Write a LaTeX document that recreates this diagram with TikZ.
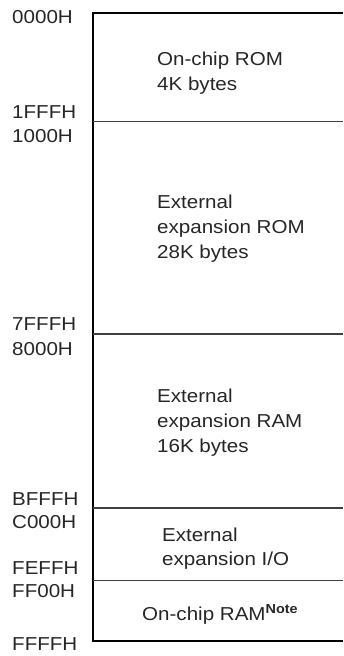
\documentclass[tikz,border=0pt]{standalone}
\usepackage{fontspec}
\setmainfont{Liberation Sans}[FakeStretch=1.1]
\begin{document}
\begin{tikzpicture}[
  x=1pt, y=-1pt,
  font=\fontsize{18.7}{25}\selectfont,
  addr/.style={anchor=base west, inner sep=0pt, text=black!85},
  area/.style={anchor=base west, inner sep=0pt, align=left, text=black!85},
  frame/.style={line width=2.6pt},
  split/.style={line width=1.1pt, black!75}]
  \useasboundingbox (0,0) rectangle (343,656);
  % memory frame, open to the right
  \coordinate (tl) at (93,13);
  \coordinate (bl) at (93,641);
  \coordinate (tr) at (343,13);
  \coordinate (br) at (343,641);
  \draw[frame] (tr) -- (tl) -- (bl) -- (br);
  \foreach \y in {121.5,334,508,580.5}
    \draw[split] (tl |- 0,\y) -- (tr |- 0,\y);
  % start and end addresses
  \node[addr] (a0000) at (12,23) {0000H};
  \node[addr] (a1fff) at (12,118) {1FFFH};
  \node[addr] (a1000) at (12,142) {1000H};
  \node[addr] (a7fff) at (12,330) {7FFFH};
  \node[addr] (a8000) at (12,355) {8000H};
  \node[addr] (abfff) at (12,505) {BFFFH};
  \node[addr] (ac000) at (12,528) {C000H};
  \node[addr] (afeff) at (12,574) {FEFFH};
  \node[addr] (aff00) at (12,597) {FF00H};
  \node[addr] (affff) at (12,650) {FFFFH};
  % areas (anchored on the last line)
  \node[area] (irom) at (157,90) {On-chip ROM\\4K bytes};
  \node[area] (xrom) at (157,258) {External\\expansion ROM\\28K bytes};
  \node[area] (xram) at (157,452) {External\\expansion RAM\\16K bytes};
  \node[area, font=\fontsize{18.7}{24}\selectfont] (xio) at (162,565) {External\\expansion I/O};
  \node[area] (iram) at (142,620) {On-chip RAM\textsuperscript{\bfseries Note}};
\end{tikzpicture}
\end{document}
